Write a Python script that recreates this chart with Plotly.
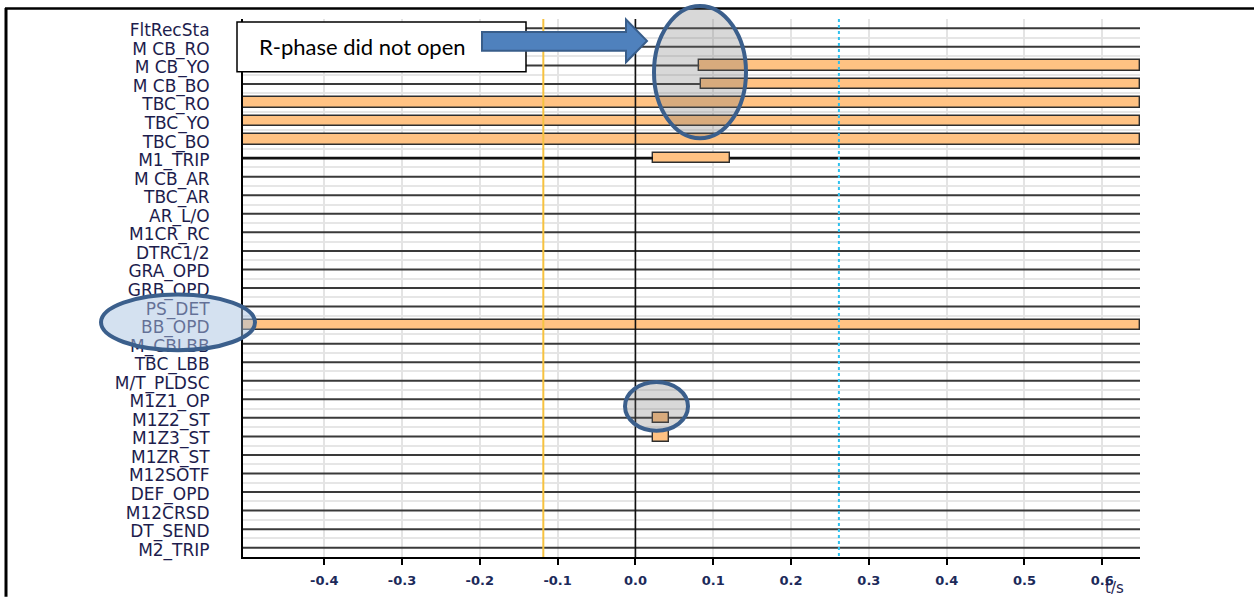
import plotly.graph_objects as go

# Signal channels of the fault record, top to bottom
signals = [
    "FltRecSta", "M CB_RO", "M CB_YO", "M CB_BO", "TBC_RO", "TBC_YO", "TBC_BO",
    "M1_TRIP", "M CB_AR", "TBC_AR", "AR_L/O", "M1CR_RC", "DTRC1/2", "GRA_OPD",
    "GRB_OPD", "PS_DET", "BB_OPD", "M_CBLBB", "TBC_LBB", "M/T_PLDSC", "M1Z1_OP",
    "M1Z2_ST", "M1Z3_ST", "M1ZR_ST", "M12SOTF", "DEF_OPD", "M12CRSD", "DT_SEND",
    "M2_TRIP",
]

# Record window (s)
t_min = -0.5044
t_max = 0.6485

# Active intervals of the binary signals (s)
bar_signals = ["M CB_YO", "M CB_BO", "TBC_RO", "TBC_YO", "TBC_BO",
               "M1_TRIP", "BB_OPD", "M1Z2_ST", "M1Z3_ST"]
bar_starts = [0.082, 0.084, t_min, t_min, t_min, 0.0225, t_min, 0.0222, 0.0222]
bar_ends = [t_max, t_max, t_max, t_max, t_max, 0.121, t_max, 0.0431, 0.0431]

# Cursors (s)
cursor_zero = 0.0
cursor_a = -0.1184
cursor_b = 0.2615

x_ticks = [-0.4, -0.3, -0.2, -0.1, 0.0, 0.1, 0.2, 0.3, 0.4, 0.5, 0.6]
x_ticklabels = ["-0.4", "-0.3", "-0.2", "-0.1", "0.0", "0.1", "0.2", "0.3", "0.4", "0.5", "0.6"]

W, H = 1254, 600
L, R, T, B = 243, 1140, 19, 560
PW, PH = R - L, B - T


def px(x):
    return (x - L) / PW


def py(y):
    return (B - y) / PH


row_of = {name: i for i, name in enumerate(signals)}

fig = go.Figure()

# Baseline segments where each signal is inactive
thin_x, thin_y, thick_x, thick_y = [], [], [], []
for name in signals:
    r = row_of[name]
    spans = sorted((s, e) for n, s, e in zip(bar_signals, bar_starts, bar_ends) if n == name)
    cur = t_min
    segs = []
    for s, e in spans:
        if s > cur:
            segs.append((cur, s))
        cur = max(cur, e)
    if cur < t_max:
        segs.append((cur, t_max))
    tx, ty = (thick_x, thick_y) if name == "M1_TRIP" else (thin_x, thin_y)
    for s, e in segs:
        tx += [s, e, None]
        ty += [r, r, None]

fig.add_trace(go.Scatter(x=thin_x, y=thin_y, mode="lines",
                         line=dict(color="#3a3a3a", width=2), hoverinfo="skip",
                         showlegend=False))
fig.add_trace(go.Scatter(x=thick_x, y=thick_y, mode="lines",
                         line=dict(color="#111111", width=2.6), hoverinfo="skip",
                         showlegend=False))

# Active intervals
fig.add_trace(go.Bar(
    y=[row_of[n] for n in bar_signals],
    base=bar_starts,
    x=[e - s for s, e in zip(bar_starts, bar_ends)],
    orientation="h",
    width=0.56,
    marker=dict(color="#FFC283", line=dict(color="#2e2e2e", width=1.4)),
    showlegend=False,
    hoverinfo="skip",
))

# Cursor lines
y_lo, y_hi = -0.5, len(signals) - 0.5
fig.add_trace(go.Scatter(x=[cursor_zero, cursor_zero], y=[y_lo, y_hi], mode="lines",
                         line=dict(color="#111111", width=1.6), showlegend=False,
                         hoverinfo="skip"))
fig.add_trace(go.Scatter(x=[cursor_a, cursor_a], y=[y_lo, y_hi], mode="lines",
                         line=dict(color="#F6C240", width=2), showlegend=False,
                         hoverinfo="skip"))
fig.add_trace(go.Scatter(x=[cursor_b, cursor_b], y=[y_lo, y_hi], mode="lines",
                         line=dict(color="#2EC0EE", width=2, dash="dot"),
                         showlegend=False, hoverinfo="skip"))

shapes = []

# Outer frame
shapes.append(dict(type="line", xref="paper", yref="paper",
                   x0=px(5), x1=px(1254), y0=py(8.5), y1=py(8.5),
                   line=dict(color="black", width=2.5)))
shapes.append(dict(type="line", xref="paper", yref="paper",
                   x0=px(6), x1=px(6), y0=py(8), y1=py(600),
                   line=dict(color="black", width=3)))

# Callout box
shapes.append(dict(type="rect", xref="paper", yref="paper", layer="above",
                   x0=px(237), x1=px(526), y0=py(22), y1=py(72),
                   fillcolor="white", line=dict(color="black", width=1.5)))

# Block arrow
arrow_pts = [(482, 32), (626, 32), (626, 19.5), (647, 41), (626, 62.5), (626, 51), (482, 51)]
path = "M " + " L ".join(f"{px(a):.5f},{py(b):.5f}" for a, b in arrow_pts) + " Z"
shapes.append(dict(type="path", xref="paper", yref="paper", layer="above", path=path,
                   fillcolor="#4F81BD", line=dict(color="#385D8A", width=2)))

# Highlight ellipses
shapes.append(dict(type="circle", xref="paper", yref="paper", layer="above",
                   x0=px(654), x1=px(746), y0=py(6), y1=py(139),
                   fillcolor="rgba(110,110,110,0.27)",
                   line=dict(color="#3B5F8C", width=4)))
shapes.append(dict(type="circle", xref="paper", yref="paper", layer="above",
                   x0=px(625), x1=px(688), y0=py(384), y1=py(433),
                   fillcolor="rgba(110,110,110,0.27)",
                   line=dict(color="#3B5F8C", width=4)))
shapes.append(dict(type="circle", xref="paper", yref="paper", layer="above",
                   x0=px(101), x1=px(255), y0=py(296), y1=py(352),
                   fillcolor="rgba(170,195,225,0.5)",
                   line=dict(color="#3B5F8C", width=4)))

annotations = [
    dict(text="R-phase did not open", xref="paper", yref="paper",
         x=px(257), y=py(47), xanchor="left", yanchor="middle", showarrow=False,
         font=dict(family="Lato", size=22, color="black")),
    dict(text="t/s", xref="paper", yref="paper",
         x=px(1114), y=py(591), xanchor="center", yanchor="middle", showarrow=False,
         font=dict(family="DejaVu Sans", size=15, color="#1e1e50")),
]

fig.update_layout(
    width=W, height=H, autosize=False,
    margin=dict(l=L, r=W - R, t=T, b=H - B, pad=0),
    paper_bgcolor="white", plot_bgcolor="white",
    bargap=0, barmode="overlay",
    shapes=shapes, annotations=annotations,
    xaxis=dict(
        range=[t_min, t_max], tickvals=x_ticks, ticktext=x_ticklabels,
        showgrid=True, gridcolor="#e4e4e4", gridwidth=2,
        zeroline=False, showline=True, linecolor="black", linewidth=2,
        ticks="outside", ticklen=6, tickwidth=2, tickcolor="black",
        ticklabelstandoff=4,
        tickfont=dict(family="DejaVu Sans", size=13, color="#1c2a5a", weight="bold"),
        fixedrange=True,
    ),
    yaxis=dict(
        range=[y_hi, y_lo], tickvals=list(range(len(signals))), ticktext=signals,
        showgrid=False, zeroline=False, showline=True, linecolor="black", linewidth=2,
        ticks="", ticklabelstandoff=28, ticklabelshift=-2,
        tickfont=dict(family="DejaVu Sans", size=17, color="#1d1d4d"),
        minor=dict(tickvals=[i + 0.5 for i in range(len(signals) - 1)],
                   showgrid=True, gridcolor="#e6e6e6", gridwidth=1.5, ticks=""),
        fixedrange=True,
    ),
)

fig.write_html("out.html")
